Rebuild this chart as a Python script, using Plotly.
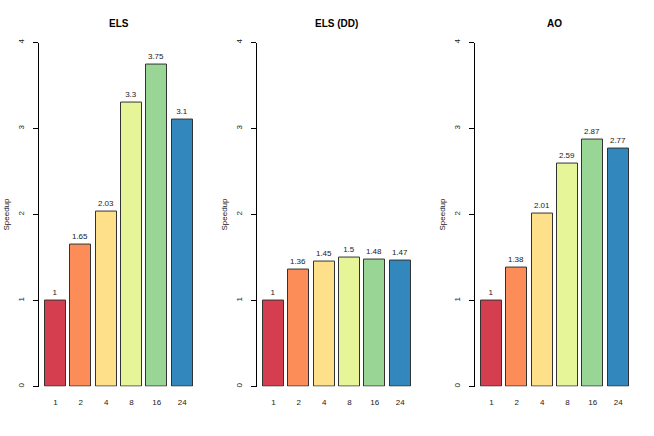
import plotly.graph_objects as go

categories = ["1", "2", "4", "8", "16", "24"]
titles = ["ELS", "ELS (DD)", "AO"]
els = [1, 1.65, 2.03, 3.3, 3.75, 3.1]
els_dd = [1, 1.36, 1.45, 1.5, 1.48, 1.47]
ao = [1, 1.38, 2.01, 2.59, 2.87, 2.77]
colors = ["#D53E4F", "#FC8D59", "#FEE08B", "#E6F598", "#99D594", "#3288BD"]
y_ticks = [0, 1, 2, 3, 4]
y_title = "Speedup"

W, H = 654, 436
series = [els, els_dd, ao]
axis_left_px = [39, 257, 475]
panel_w_px = 159.6
y_top_px, y_bot_px = 39, 387

# R barplot positions: width 1, space 0.2
centers = [0.7 + 1.2 * i for i in range(len(categories))]
xr = [-0.08, 7.48]

fig = go.Figure()
font = "Liberation Sans, Arial, Helvetica, sans-serif"
txt = "#1a1a1a"
annotations = []
for k, vals in enumerate(series):
    xa = "x" if k == 0 else f"x{k+1}"
    ya = "y" if k == 0 else f"y{k+1}"
    fig.add_trace(go.Bar(
        x=centers, y=vals, width=1.0,
        marker=dict(color=colors, line=dict(color="#333333", width=1)),
        text=[f"{v:g}" for v in vals], textposition="outside",
        textfont=dict(size=8, color=txt, family=font),
        constraintext="none", cliponaxis=False,
        xaxis=xa, yaxis=ya, showlegend=False, hoverinfo="skip",
    ))
    x0 = axis_left_px[k] / W
    x1 = (axis_left_px[k] + panel_w_px) / W
    d_y = [1 - y_bot_px / H, 1 - y_top_px / H]
    xkey = "xaxis" if k == 0 else f"xaxis{k+1}"
    ykey = "yaxis" if k == 0 else f"yaxis{k+1}"
    fig.update_layout(**{
        xkey: dict(domain=[x0, x1], range=xr, anchor=ya,
                   tickvals=centers, ticktext=categories,
                   showline=False, showgrid=False, zeroline=False,
                   ticks="outside", ticklen=8, tickcolor="rgba(0,0,0,0)",
                   tickfont=dict(size=8, color=txt, family=font)),
        ykey: dict(domain=d_y, range=[0, 4], anchor=xa,
                   tickvals=y_ticks, showline=True, linecolor="black", linewidth=1,
                   showgrid=False, zeroline=False,
                   ticks="outside", ticklen=5, tickcolor="black", tickwidth=1,
                   tickangle=-90, ticklabelstandoff=6,
                   tickfont=dict(size=8, color=txt, family=font)),
    })
    annotations.append(dict(
        text=f"<b>{titles[k]}</b>", x=(x0 + x1) / 2, y=1 - 20 / H,
        xref="paper", yref="paper", showarrow=False,
        font=dict(size=10, color="black", family=font),
        xanchor="center", yanchor="middle"))
    annotations.append(dict(
        text=y_title, x=(axis_left_px[k] - 32) / W, y=1 - 213 / H,
        xref="paper", yref="paper", showarrow=False, textangle=-90,
        font=dict(size=8, color=txt, family=font),
        xanchor="center", yanchor="middle"))

fig.update_layout(
    width=W, height=H, margin=dict(l=0, r=0, t=0, b=0),
    plot_bgcolor="white", paper_bgcolor="white",
    annotations=annotations, bargap=0,
)
fig.write_html("out.html", config={"displayModeBar": False},
               post_script="document.body.style.margin='0';document.body.style.overflow='hidden';")
